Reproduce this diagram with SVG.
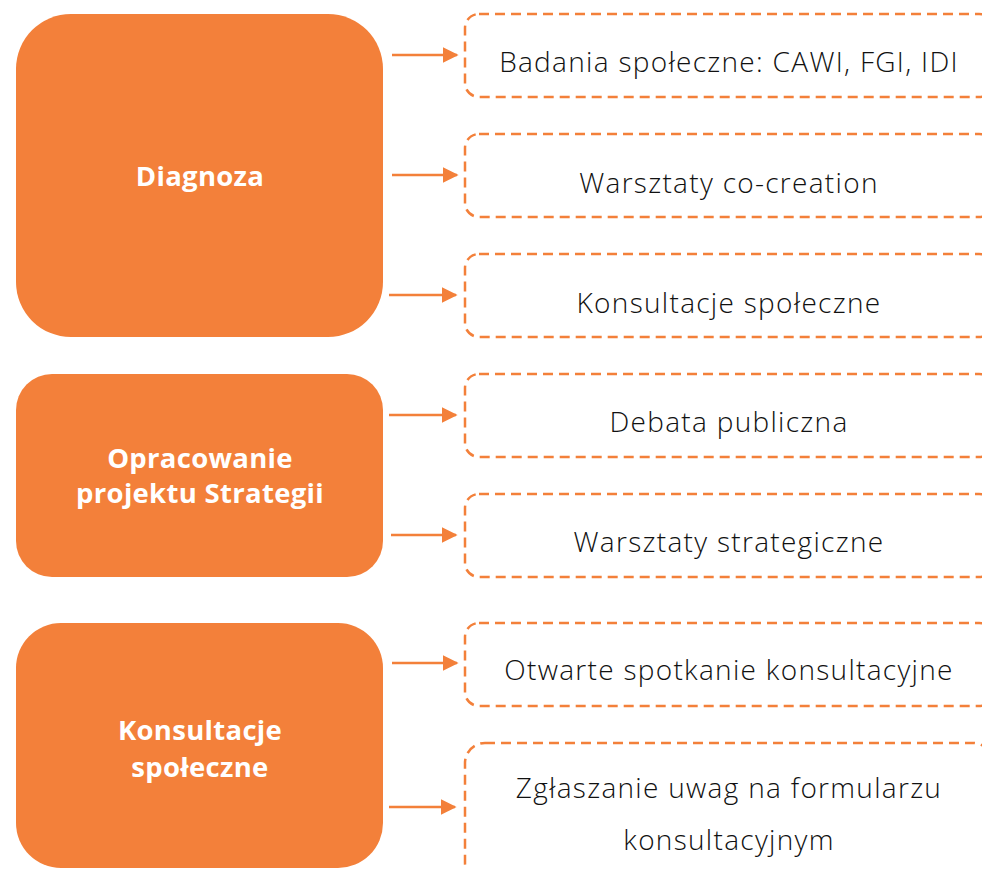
<svg xmlns="http://www.w3.org/2000/svg" width="982" height="870" viewBox="0 0 982 870">
<style>
.main{fill:#F3803A}
.sub{fill:none;stroke:#F3803A;stroke-width:2.5;stroke-dasharray:10 6}
.mt{font-family:"Open Sans","Liberation Sans",sans-serif;font-weight:700;font-size:27.5px;fill:#fff;text-anchor:middle;letter-spacing:0.3px}
.st{font-family:"Open Sans","Liberation Sans",sans-serif;font-weight:300;font-size:28px;fill:#111;text-anchor:middle;letter-spacing:1.3px}
.arr{stroke:#F3803A;stroke-width:2.5;fill:none;marker-end:url(#ah)}
</style>
<defs>
<marker id="ah" viewBox="0 0 10 10" refX="9" refY="5" markerWidth="6.4" markerHeight="6.4" markerUnits="strokeWidth" orient="auto">
<path d="M0,0 L10,5 L0,10 z" fill="#F3803A"/>
</marker>
</defs>
<g id="n-diagnoza"><rect class="main" x="16" y="14" width="367" height="323" rx="55"/><text class="mt" x="200" y="186">Diagnoza</text></g>
<g id="n-opracowanie"><rect class="main" x="16" y="374" width="367" height="203" rx="36"/><text class="mt" x="200" y="468">Opracowanie</text><text class="mt" x="200" y="503">projektu Strategii</text></g>
<g id="n-konsultacje"><rect class="main" x="16" y="623" width="367" height="245" rx="45"/><text class="mt" x="200" y="740">Konsultacje</text><text class="mt" x="200" y="777">społeczne</text></g>
<g id="s1"><rect class="sub" x="465" y="14" width="528" height="83" rx="14"/><text class="st" x="729" y="72">Badania społeczne: CAWI, FGI, IDI</text></g>
<g id="s2"><rect class="sub" x="465" y="134" width="528" height="83" rx="14"/><text class="st" x="729" y="193">Warsztaty co-creation</text></g>
<g id="s3"><rect class="sub" x="465" y="254" width="528" height="83" rx="14"/><text class="st" x="729" y="313">Konsultacje społeczne</text></g>
<g id="s4"><rect class="sub" x="465" y="374" width="528" height="83" rx="14"/><text class="st" x="729" y="432">Debata publiczna</text></g>
<g id="s5"><rect class="sub" x="465" y="494" width="528" height="83" rx="14"/><text class="st" x="729" y="552">Warsztaty strategiczne</text></g>
<g id="s6"><rect class="sub" x="465" y="623" width="528" height="83" rx="14"/><text class="st" x="729" y="680">Otwarte spotkanie konsultacyjne</text></g>
<g id="s7"><rect class="sub" x="465" y="743" width="528" height="140" rx="20"/><text class="st" x="729" y="798">Zgłaszanie uwag na formularzu</text><text class="st" x="729" y="850">konsultacyjnym</text></g>
<g id="connectors">
<line class="arr" x1="392" y1="55" x2="457" y2="55"/>
<line class="arr" x1="392" y1="175" x2="457" y2="175"/>
<line class="arr" x1="389" y1="295" x2="456" y2="295"/>
<line class="arr" x1="389" y1="415" x2="456" y2="415"/>
<line class="arr" x1="391" y1="535" x2="456" y2="535"/>
<line class="arr" x1="392" y1="663" x2="457" y2="663"/>
<line class="arr" x1="389" y1="807" x2="455" y2="807"/>
</g>
</svg>
